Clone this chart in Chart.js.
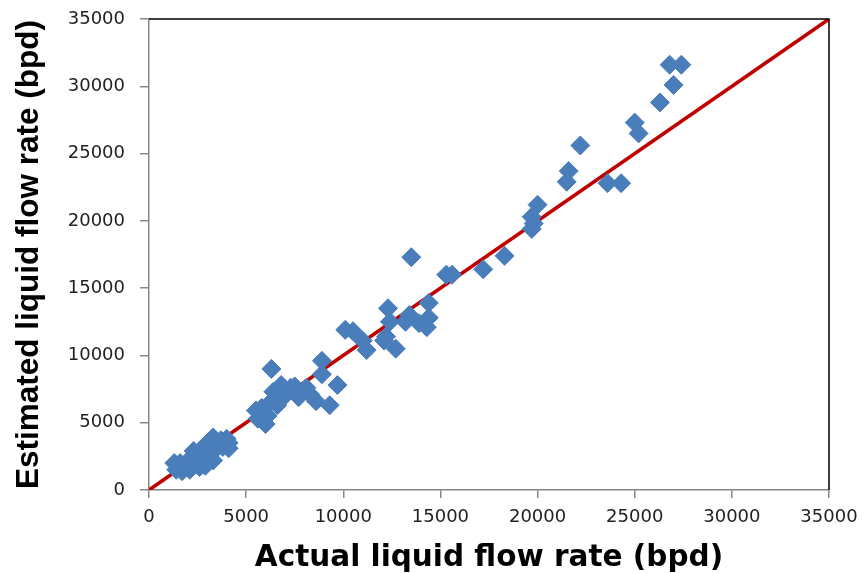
<!DOCTYPE html>
<html>
<head>
<meta charset="utf-8">
<script src="https://cdn.jsdelivr.net/npm/chart.js@4/dist/chart.umd.min.js"></script>
<style>
  html, body { margin: 0; padding: 0; background: #fff; }
  #box { width: 863px; height: 573px; }
</style>
</head>
<body>
<div id="box"><canvas id="graph01"></canvas></div>
<script>
// actual vs estimated liquid flow rate (bpd)
const actual = [
  26800, 27400, 27000, 26300, 25000, 25200, 22200, 21600, 21500, 23600,
  24300, 20000, 19700, 19800, 19700, 18300, 17200, 15600, 15300, 13500,
  14400, 14400, 14300, 13900, 13400, 12300, 12400, 12200, 12100, 12700,
  11200, 11000, 10100, 10500, 13200,
  8900, 8900, 9700, 8600, 9300,
  6300, 6800, 7500, 8100, 8300, 7700, 7000, 6500, 6100, 5800,
  5500, 5600, 6000, 6100, 6600, 7300, 6400, 7600,
  1300, 1400, 1700, 1900, 2100, 2100, 2400, 2300, 2600, 2800,
  2900, 3000, 3100, 3300, 3400, 3700, 3800, 4000, 4100, 2600,
  3300, 1600, 4100
];
const estimated = [
  31600, 31600, 30100, 28800, 27300, 26500, 25600, 23700, 22900, 22800,
  22800, 21200, 20300, 19800, 19400, 17400, 16400, 16000, 16000, 17300,
  13900, 12800, 12100, 12400, 13000, 13500, 12500, 11400, 11100, 10500,
  10400, 11100, 11900, 11800, 12500,
  9600, 8600, 7800, 6600, 6300,
  9000, 7800, 7700, 7600, 7100, 6900, 7000, 6800, 6300, 6100,
  5900, 5300, 4900, 5500, 6300, 7600, 7300, 7300,
  2000, 1500, 1400, 1800, 1500, 2300, 2000, 2900, 2500, 3200,
  1800, 2700, 3600, 3900, 3000, 3700, 3200, 3800, 3100, 1700,
  2200, 2000, 3500
];
// 1:1 reference line
const lineX = [0, 35000];
const lineY = [0, 35000];
const ticksAxe = [0, 5000, 10000, 15000, 20000, 25000, 30000, 35000];

const pts = actual.map((v, i) => ({ x: v, y: estimated[i] }));
const ligne = lineX.map((v, i) => ({ x: v, y: lineY[i] }));

// cadre noir en haut et a droite
const cadre = {
  id: 'cadre',
  afterDatasetsDraw(chart) {
    const a = chart.chartArea, ctx = chart.ctx;
    ctx.save();
    ctx.strokeStyle = '#000';
    ctx.lineWidth = 1.5;
    ctx.beginPath();
    ctx.moveTo(a.left, a.top);
    ctx.lineTo(a.right, a.top);
    ctx.lineTo(a.right, a.bottom);
    ctx.stroke();
    ctx.restore();
  }
};

const gris = '#868686';
const sansVirgule = (v) => String(v);

new Chart(document.getElementById('graph01'), {
  type: 'scatter',
  data: {
    datasets: [
      {
        label: 'Estimated',
        data: pts,
        pointStyle: 'rectRot',
        pointRadius: 9.5,
        pointHoverRadius: 9.5,
        backgroundColor: '#4a7ebb',
        borderColor: '#4a7ebb',
        borderWidth: 1,
        order: 1
      },
      {
        label: 'y = x',
        type: 'line',
        data: ligne,
        borderColor: '#c00000',
        borderWidth: 3.5,
        pointRadius: 0,
        fill: false,
        order: 2
      }
    ]
  },
  options: {
    responsive: true,
    maintainAspectRatio: false,
    animation: false,
    layout: { padding: { top: 19, right: 34, left: 0, bottom: 0 } },
    plugins: {
      legend: { display: false },
      tooltip: { enabled: false }
    },
    scales: {
      x: {
        type: 'linear',
        min: 0, max: 35000,
        afterBuildTicks: (s) => { s.ticks = ticksAxe.map(v => ({ value: v })); },
        afterFit: (s) => { s.height = 83; s.paddingLeft = 0; s.paddingRight = 0; },
        border: { color: gris, width: 1.5 },
        grid: { drawOnChartArea: false, drawTicks: true, tickLength: 8, color: gris, lineWidth: 1.5 },
        ticks: { color: '#222', padding: 9, maxRotation: 0, autoSkip: false, callback: sansVirgule, font: { family: 'DejaVu Sans', size: 18 } },
        title: { display: true, text: 'Actual liquid flow rate (bpd)', color: '#000', padding: { top: 0, bottom: -3 }, font: { family: 'DejaVu Sans', weight: 'bold', size: 29.5 } }
      },
      y: {
        type: 'linear',
        min: 0, max: 35000,
        afterBuildTicks: (s) => { s.ticks = ticksAxe.map(v => ({ value: v })); },
        afterFit: (s) => { s.width = 149; s.paddingTop = 0; s.paddingBottom = 0; },
        border: { color: gris, width: 1.5 },
        grid: { drawOnChartArea: false, drawTicks: true, tickLength: 9, color: gris, lineWidth: 1.5 },
        ticks: { color: '#222', padding: 15, autoSkip: false, callback: sansVirgule, font: { family: 'DejaVu Sans', size: 18 } },
        title: { display: true, text: 'Estimated liquid flow rate (bpd)', color: '#000', padding: { top: 10, bottom: 0 }, font: { family: 'Liberation Sans', weight: 'bold', size: 31.5 } }
      }
    }
  },
  plugins: [cadre]
});
</script>
</body>
</html>
